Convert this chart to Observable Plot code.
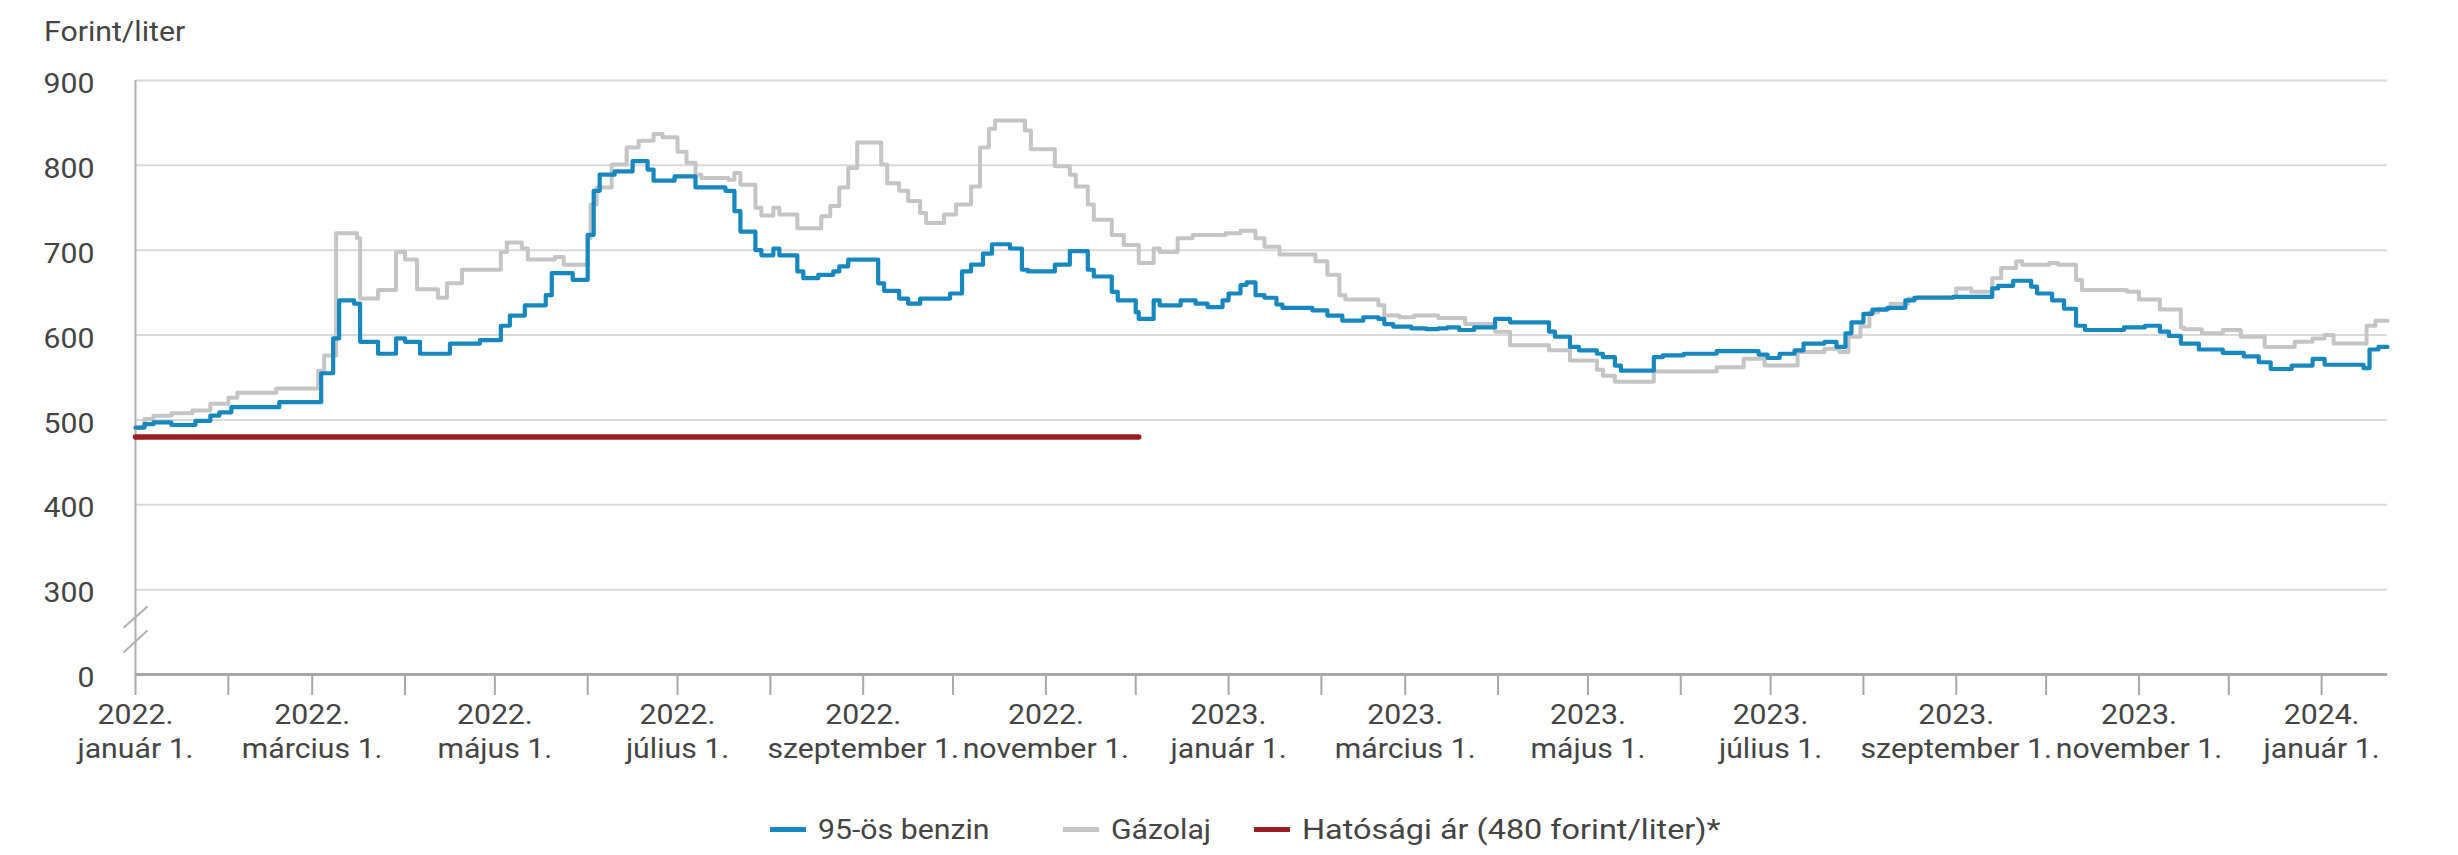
<!DOCTYPE html>
<html>
<head>
<meta charset="utf-8">
<script src="https://cdn.jsdelivr.net/npm/d3@7"></script>
<script src="https://cdn.jsdelivr.net/npm/@observablehq/plot@0.6"></script>
<style>
  html, body { margin: 0; padding: 0; background: #fff; }
  #wrap { position: relative; width: 2458px; height: 855px; font-family: Roboto, sans-serif; color: #444; overflow: hidden; }
  #title { position: absolute; left: 44px; top: 0; width: 600px; height: 56px; }
  #title span { position: absolute; left: 0; top: 19px; font-size: 27px; line-height: 27px; white-space: nowrap; transform: scaleX(1.12); transform-origin: left center; }
  #chart { position: absolute; left: 0; top: 56px; }
  #legend { position: absolute; left: 0; top: 786px; width: 2458px; height: 69px; }
  .sw { position: absolute; top: 41px; height: 5px; width: 36px; }
  .lt { position: absolute; top: 31px; font-size: 27px; line-height: 27px; white-space: nowrap; transform: scaleX(1.12); transform-origin: left center; }
</style>
</head>
<body>
<div id="wrap">
  <div id="title"><span>Forint/liter</span></div>
  <div id="chart"></div>
  <div id="legend"></div>
</div>
<script>
// ---------- DATA ----------
const seriesNames = ["95-ös benzin", "Gázolaj", "Hatósági ár (480 forint/liter)*"];
const seriesColors = ["#1787bf", "#c5c5c5", "#9d1c22"];

const benzinDates = [
  "2022-01-01","2022-01-04","2022-01-07","2022-01-13","2022-01-21","2022-01-26","2022-01-29","2022-02-02","2022-02-18",
  "2022-03-04","2022-03-08","2022-03-10","2022-03-15","2022-03-17","2022-03-23","2022-03-29","2022-04-01","2022-04-06",
  "2022-04-16","2022-04-26","2022-05-03","2022-05-06","2022-05-11","2022-05-18","2022-05-20","2022-05-27","2022-06-01",
  "2022-06-03","2022-06-05","2022-06-10","2022-06-16","2022-06-21","2022-06-23","2022-06-30","2022-07-07","2022-07-17",
  "2022-07-20","2022-07-22","2022-07-27","2022-07-29","2022-08-02","2022-08-04","2022-08-10","2022-08-12","2022-08-17",
  "2022-08-22","2022-08-24","2022-08-27","2022-09-06","2022-09-08","2022-09-13","2022-09-16","2022-09-20","2022-09-30",
  "2022-10-04","2022-10-07","2022-10-11","2022-10-14","2022-10-20","2022-10-24","2022-10-26","2022-11-04","2022-11-09",
  "2022-11-15","2022-11-17","2022-11-23","2022-11-25","2022-12-01","2022-12-02","2022-12-07","2022-12-09","2022-12-16",
  "2022-12-21","2022-12-25","2022-12-30","2023-01-01","2023-01-05","2023-01-07","2023-01-10","2023-01-13","2023-01-17",
  "2023-01-19","2023-01-29","2023-02-03","2023-02-08","2023-02-15","2023-02-20","2023-02-22","2023-02-25","2023-03-03",
  "2023-03-08","2023-03-12","2023-03-15","2023-03-19","2023-03-24","2023-03-31","2023-04-05","2023-04-18","2023-04-20",
  "2023-04-25","2023-04-28","2023-05-04","2023-05-06","2023-05-10","2023-05-12","2023-05-23","2023-05-26","2023-06-02",
  "2023-06-13","2023-06-27","2023-06-30","2023-07-04","2023-07-09","2023-07-12","2023-07-19","2023-07-23","2023-07-26",
  "2023-07-28","2023-08-01","2023-08-04","2023-08-09","2023-08-15","2023-08-18","2023-08-31","2023-09-13","2023-09-15",
  "2023-09-20","2023-09-26","2023-09-28","2023-10-03","2023-10-07","2023-10-11","2023-10-14","2023-10-27","2023-11-03",
  "2023-11-08","2023-11-11","2023-11-15","2023-11-21","2023-11-29","2023-12-06","2023-12-11","2023-12-15","2023-12-22",
  "2023-12-29","2024-01-02","2024-01-15","2024-01-17","2024-01-20","2024-01-23"
];
const benzinValues = [
  491,495,497,494,499,505,509,515,521,
  555,596,641,637,592,578,596,592,578,
  590,594,611,623,635,647,673,665,718,
  770,789,793,805,795,782,787,774,770,
  746,722,700,694,702,694,675,667,671,
  675,681,689,661,652,643,637,643,649,
  675,683,696,707,702,677,675,683,699,
  677,669,651,641,627,619,641,635,641,
  637,633,641,649,659,662,647,644,636,
  632,629,623,617,621,619,613,610,608,
  607,608,609,606,609,619,615,604,598,
  586,582,578,574,564,558,574,576,578,
  581,577,573,578,582,590,592,586,602,
  615,625,630,632,641,644,645,655,658,
  664,657,649,641,631,611,606,609,611,
  604,599,590,583,579,575,568,560,564,
  572,565,561,583,586,586
];

const gazolajDates = [
  "2022-01-01","2022-01-04","2022-01-07","2022-01-13","2022-01-20","2022-01-26","2022-02-01","2022-02-04","2022-02-17",
  "2022-03-03","2022-03-05","2022-03-09","2022-03-16","2022-03-17","2022-03-23","2022-03-29","2022-04-01","2022-04-05",
  "2022-04-12","2022-04-15","2022-04-20","2022-05-03","2022-05-05","2022-05-10","2022-05-12","2022-05-21","2022-05-24",
  "2022-06-01","2022-06-02","2022-06-04","2022-06-09","2022-06-14","2022-06-18","2022-06-23","2022-06-26","2022-07-01",
  "2022-07-04","2022-07-07","2022-07-09","2022-07-18","2022-07-20","2022-07-22","2022-07-27","2022-07-29","2022-08-02",
  "2022-08-04","2022-08-10","2022-08-18","2022-08-21","2022-08-24","2022-08-27","2022-08-30","2022-09-07","2022-09-09",
  "2022-09-13","2022-09-16","2022-09-20","2022-09-22","2022-09-28","2022-10-02","2022-10-07","2022-10-10","2022-10-13",
  "2022-10-15","2022-10-25","2022-10-27","2022-11-04","2022-11-09","2022-11-11","2022-11-15","2022-11-17","2022-11-23",
  "2022-11-27","2022-12-02","2022-12-07","2022-12-09","2022-12-15","2022-12-20","2022-12-31","2023-01-05","2023-01-10",
  "2023-01-13","2023-01-18","2023-01-30","2023-02-03","2023-02-07","2023-02-09","2023-02-20","2023-02-22","2023-02-27",
  "2023-03-04","2023-03-12","2023-03-21","2023-03-31","2023-04-05","2023-04-18","2023-04-25","2023-05-04","2023-05-06",
  "2023-05-10","2023-05-23","2023-06-13","2023-06-22","2023-06-29","2023-07-10","2023-07-19","2023-07-24","2023-07-27",
  "2023-07-31","2023-08-03","2023-08-06","2023-08-10","2023-08-16","2023-08-19","2023-09-01","2023-09-06","2023-09-13",
  "2023-09-16","2023-09-21","2023-09-23","2023-10-02","2023-10-05","2023-10-11","2023-10-13","2023-10-28","2023-11-01",
  "2023-11-08","2023-11-15","2023-11-16","2023-11-22","2023-11-29","2023-12-05","2023-12-13","2023-12-23","2023-12-29",
  "2024-01-02","2024-01-05","2024-01-16","2024-01-19","2024-01-23"
];
const gazolajValues = [
  491,501,505,508,511,519,526,532,537,
  558,576,720,714,643,653,698,689,654,
  644,661,677,698,709,702,689,692,683,
  714,754,774,801,821,829,837,833,816,
  803,789,785,783,791,777,750,741,750,
  742,726,740,752,774,797,827,801,779,
  770,758,744,732,742,754,775,821,843,
  853,841,819,799,789,775,754,736,718,
  706,685,702,698,714,718,720,723,714,
  704,695,687,671,647,642,635,623,621,
  623,620,613,604,588,582,570,559,552,
  545,557,562,572,564,580,584,580,598,
  610,627,631,637,643,645,655,651,667,
  679,687,683,685,683,665,653,651,642,
  630,609,607,602,606,598,586,592,596,
  600,590,611,617,617
];

const capDates = ["2022-01-01", "2022-12-02"];
const capValues = [480, 480];

const yTicks = [200, 300, 400, 500, 600, 700, 800, 900];
const yTickLabels = ["0", "300", "400", "500", "600", "700", "800", "900"];
const gridValues = [300, 400, 500, 600, 700, 800, 900];

const xLabelDates = ["2022-01-01","2022-03-01","2022-05-01","2022-07-01","2022-09-01","2022-11-01",
  "2023-01-01","2023-03-01","2023-05-01","2023-07-01","2023-09-01","2023-11-01","2024-01-01"];
const xLabels = ["2022.\njanuár 1.","2022.\nmárcius 1.","2022.\nmájus 1.","2022.\njúlius 1.","2022.\nszeptember 1.","2022.\nnovember 1.",
  "2023.\njanuár 1.","2023.\nmárcius 1.","2023.\nmájus 1.","2023.\njúlius 1.","2023.\nszeptember 1.","2023.\nnovember 1.","2024.\njanuár 1."];

const xStart = "2022-01-01";
const xEnd = "2024-01-23";
// axis break (value range shown collapsed between 0 and 300)
const breakMarks = [{lo: 226, hi: 252}, {lo: 255, hi: 280}];

// ---------- BUILD ----------
const toRows = (dates, values) => dates.map((d, i) => ({date: new Date(d), value: values[i]}));
const benzin = toRows(benzinDates, benzinValues);
const gazolaj = toRows(gazolajDates, gazolajValues);
const cap = toRows(capDates, capValues);

const x0 = new Date(xStart), x1 = new Date(xEnd);
const monthTicks = d3.utcMonth.range(x0, x1);
const labelMap = new Map(xLabelDates.map((d, i) => [+new Date(d), xLabels[i]]));
const yLabelMap = new Map(yTicks.map((d, i) => [d, yTickLabels[i]]));

const plot = Plot.plot({
  width: 2458,
  height: 730,
  marginLeft: 135,
  marginRight: 71,
  marginTop: 24,
  marginBottom: 112,
  style: {fontFamily: "Roboto, sans-serif", fontSize: "27px", color: "#444", background: "transparent"},
  x: {type: "utc", domain: [x0, x1], label: null},
  y: {domain: [200, 900], label: null},
  marks: [
    Plot.ruleY(gridValues, {stroke: "#dadada", strokeWidth: 2}),
    Plot.axisX(monthTicks, {tickSize: 21, stroke: "#a8a8a8", strokeWidth: 2, fill: "none", label: null}),
    Plot.ruleY([200], {stroke: "#a8a8a8", strokeWidth: 3}),
    Plot.ruleX([x0], {y1: 200, y2: 900, stroke: "#b0b0b0", strokeWidth: 2}),
    Plot.link(breakMarks, {
      x1: () => d3.utcDay.offset(x0, -4), x2: () => d3.utcDay.offset(x0, 4),
      y1: "lo", y2: "hi", stroke: "#b0b0b0", strokeWidth: 2
    }),
    Plot.axisX(xLabelDates.map(d => new Date(d)), {
      tickSize: 0, tickPadding: 25, lineHeight: 1.26,
      tickFormat: d => labelMap.get(+d), fill: "#444", label: null
    }),
    Plot.axisY(yTicks, {
      tickSize: 0, tickPadding: 41, dy: 4,
      tickFormat: d => yLabelMap.get(d), fill: "#444", label: null
    }),
    Plot.line(cap, {x: "date", y: "value", stroke: seriesColors[2], strokeWidth: 5.5}),
    Plot.line(gazolaj, {x: "date", y: "value", curve: "step-after", stroke: seriesColors[1], strokeWidth: 4}),
    Plot.line(benzin, {x: "date", y: "value", curve: "step-after", stroke: seriesColors[0], strokeWidth: 4.2})
  ]
});

// widen glyphs slightly to match the reference's horizontally stretched lettering
d3.select(plot).selectAll("text").each(function () {
  const t = this.getAttribute("transform");
  if (t) {
    this.setAttribute("transform", t + " scale(1.12,1)");
  } else {
    const x = +(this.getAttribute("x") || 0), y = +(this.getAttribute("y") || 0);
    this.removeAttribute("x"); this.removeAttribute("y");
    this.setAttribute("transform", `translate(${x},${y}) scale(1.12,1)`);
  }
});

document.getElementById("chart").appendChild(plot);

// ---------- LEGEND ----------
const legendLeft = [770, 1063, 1254];
const legendTextScale = [1.12, 1.12, 1.2];
const legend = document.getElementById("legend");
seriesNames.forEach((name, i) => {
  const sw = document.createElement("div");
  sw.className = "sw";
  sw.style.left = legendLeft[i] + "px";
  sw.style.background = seriesColors[i];
  legend.appendChild(sw);
  const t = document.createElement("div");
  t.className = "lt";
  t.style.left = (legendLeft[i] + 48) + "px";
  t.style.transform = `scaleX(${legendTextScale[i]})`;
  t.textContent = name;
  legend.appendChild(t);
});
</script>
</body>
</html>
